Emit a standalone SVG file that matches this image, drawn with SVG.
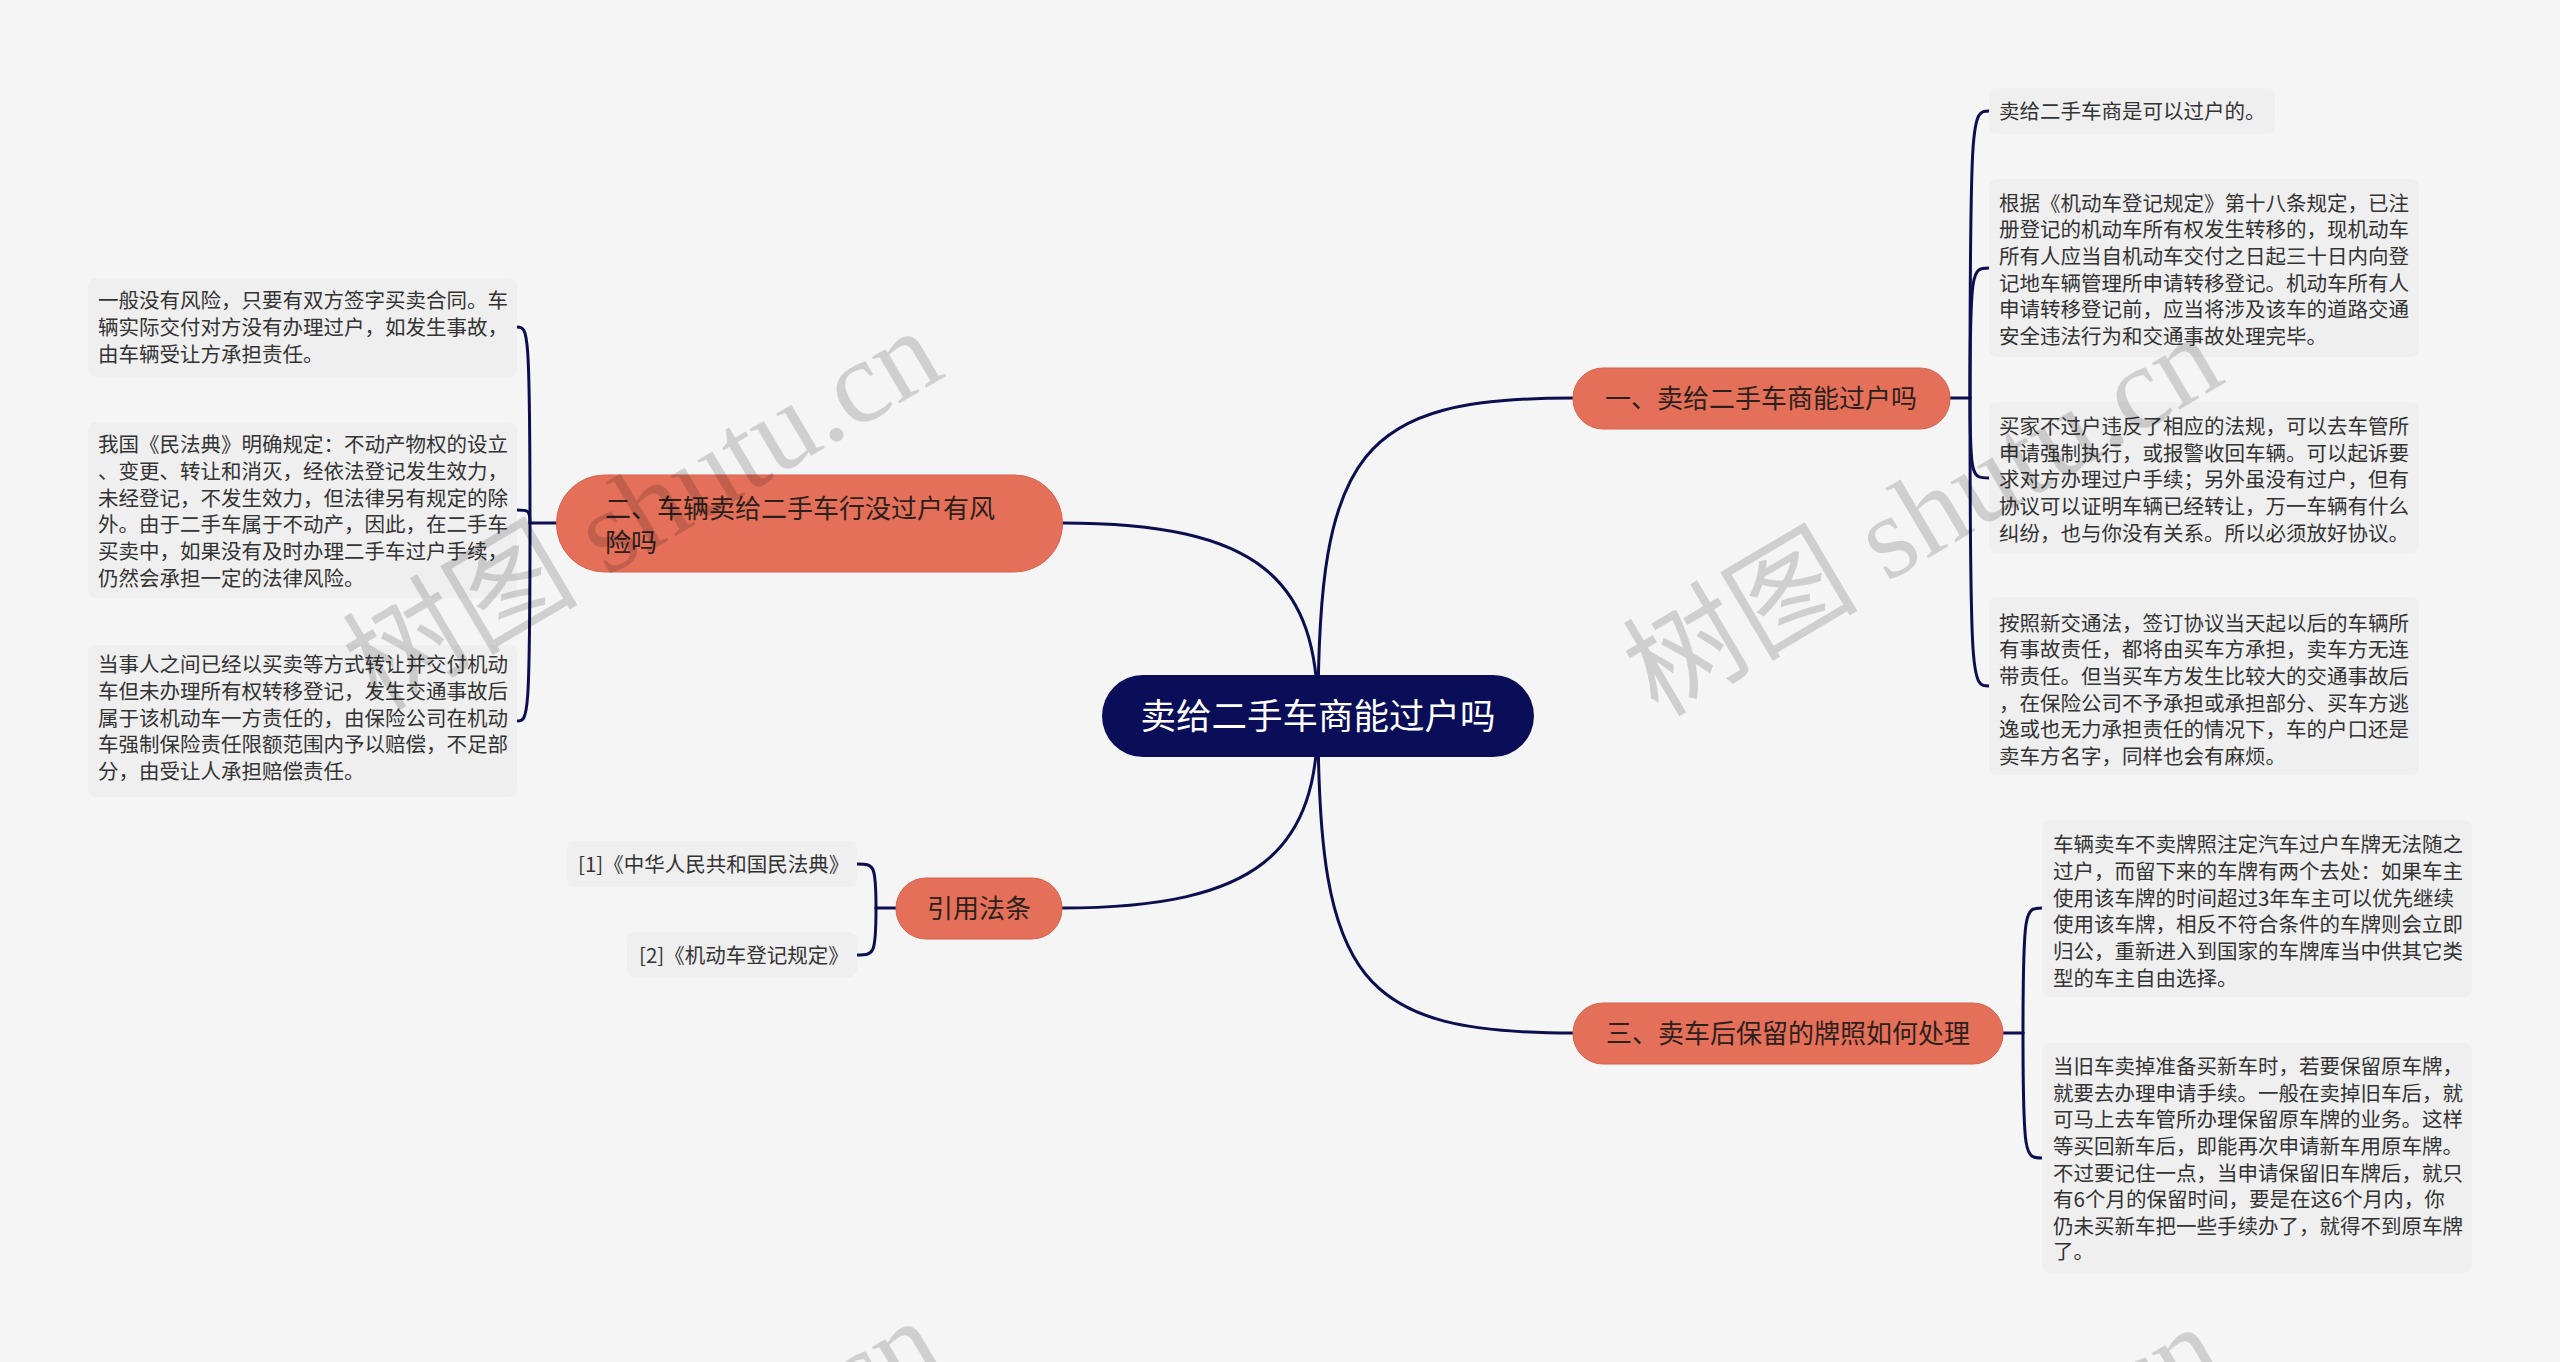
<svg xmlns="http://www.w3.org/2000/svg" width="2560" height="1362" viewBox="0 0 2560 1362">
<defs>
<style>
.bg{fill:#f5f5f5}
.conn{fill:none;stroke:#0b0f4f;stroke-width:3;stroke-linecap:round}
.root{fill:#0a0d57}
.rootT{font-family:"Noto Sans CJK SC","Noto Sans",sans-serif;font-size:35.5px;fill:#ffffff}
.br{fill:#e4705a;stroke:#d8634d;stroke-width:1}
.brT{font-family:"Noto Sans CJK SC","Noto Sans",sans-serif;font-size:26px;fill:#2d1f1c}
.leaf{fill:#efefef}
.lT{font-family:"Noto Sans CJK SC","Noto Sans",sans-serif;font-size:20.5px;fill:#333333}
.wm{font-family:"Liberation Serif","Noto Sans CJK SC",serif;font-size:118px;fill:#000000;opacity:0.15}
</style>
</defs>
<rect class="bg" x="0" y="0" width="2560" height="1362"/>

<g id="connectors">
<path class="conn" d="M1318,716 C1318,450 1360,398 1573,398"/>
<path class="conn" d="M1318,716 C1318,982 1360,1033 1573,1033"/>
<path class="conn" d="M1318,716 C1318,580 1260,523 1062,523"/>
<path class="conn" d="M1318,716 C1318,850 1260,908 1062,908"/>
<path class="conn" d="M1950,398 L1970,398"/>
<path class="conn" d="M1970,398 C1970,111 1972,111 1989,111"/>
<path class="conn" d="M1970,398 C1970,268 1972,268 1989,268"/>
<path class="conn" d="M1970,398 C1970,478 1972,478 1989,478"/>
<path class="conn" d="M1970,398 C1970,686 1972,686 1989,686"/>
<path class="conn" d="M2003,1033 L2023,1033"/>
<path class="conn" d="M2023,1033 C2023,908 2025,908 2042,908"/>
<path class="conn" d="M2023,1033 C2023,1158 2025,1158 2042,1158"/>
<path class="conn" d="M556,523 L530,523"/>
<path class="conn" d="M530,523 C530,327 528,327 517,327"/>
<path class="conn" d="M530,523 C530,510 528,510 517,510"/>
<path class="conn" d="M530,523 C530,721 528,721 517,721"/>
<path class="conn" d="M896,908 L876,908"/>
<path class="conn" d="M876,908 C876,864 874,864 857,864"/>
<path class="conn" d="M876,908 C876,955 874,955 857,955"/>
</g>

<g id="root">
<rect class="root" x="1102" y="675" width="432" height="82" rx="41"/>
<text class="rootT" x="1318" y="729" text-anchor="middle">卖给二手车商能过户吗</text>
</g>

<g id="branch1">
<rect class="br" x="1573" y="368" width="377" height="61" rx="30"/>
<text class="brT" x="1761" y="408" text-anchor="middle">一、卖给二手车商能过户吗</text>
</g>

<g id="branch2">
<rect class="br" x="556.5" y="475" width="506" height="97" rx="48"/>
<text class="brT" x="605" y="518">二、车辆卖给二手车行没过户有风</text>
<text class="brT" x="605" y="552">险吗</text>
</g>

<g id="branch3">
<rect class="br" x="1573" y="1003" width="430" height="61" rx="30"/>
<text class="brT" x="1788" y="1043" text-anchor="middle">三、卖车后保留的牌照如何处理</text>
</g>

<g id="branch4">
<rect class="br" x="896" y="878" width="166" height="61" rx="30"/>
<text class="brT" x="979" y="918" text-anchor="middle">引用法条</text>
</g>

<g id="leafL1">
<rect class="leaf" x="88" y="278" width="429" height="99" rx="8"/>
<text class="lT" x="98" y="308">一般没有风险，只要有双方签字买卖合同。车</text>
<text class="lT" x="98" y="335">辆实际交付对方没有办理过户，如发生事故，</text>
<text class="lT" x="98" y="362">由车辆受让方承担责任。</text>
</g>

<g id="leafL2">
<rect class="leaf" x="88" y="422" width="429" height="176" rx="8"/>
<text class="lT" x="98" y="452">我国《民法典》明确规定：不动产物权的设立</text>
<text class="lT" x="98" y="479">、变更、转让和消灭，经依法登记发生效力，</text>
<text class="lT" x="98" y="506">未经登记，不发生效力，但法律另有规定的除</text>
<text class="lT" x="98" y="532">外。由于二手车属于不动产，因此，在二手车</text>
<text class="lT" x="98" y="559">买卖中，如果没有及时办理二手车过户手续，</text>
<text class="lT" x="98" y="586">仍然会承担一定的法律风险。</text>
</g>

<g id="leafL3">
<rect class="leaf" x="88" y="645" width="429" height="152" rx="8"/>
<text class="lT" x="98" y="672">当事人之间已经以买卖等方式转让并交付机动</text>
<text class="lT" x="98" y="699">车但未办理所有权转移登记，发生交通事故后</text>
<text class="lT" x="98" y="726">属于该机动车一方责任的，由保险公司在机动</text>
<text class="lT" x="98" y="752">车强制保险责任限额范围内予以赔偿，不足部</text>
<text class="lT" x="98" y="779">分，由受让人承担赔偿责任。</text>
</g>

<g id="leafC1">
<rect class="leaf" x="567" y="841" width="290" height="46" rx="8"/>
<text class="lT" x="578" y="872">[1]《中华人民共和国民法典》</text>
</g>

<g id="leafC2">
<rect class="leaf" x="627" y="932" width="230" height="45" rx="8"/>
<text class="lT" x="639" y="963">[2]《机动车登记规定》</text>
</g>

<g id="leafR1">
<rect class="leaf" x="1989" y="88" width="286" height="46" rx="8"/>
<text class="lT" x="1999" y="119">卖给二手车商是可以过户的。</text>
</g>

<g id="leafR2">
<rect class="leaf" x="1989" y="179" width="430" height="178" rx="8"/>
<text class="lT" x="1999" y="211">根据《机动车登记规定》第十八条规定，已注</text>
<text class="lT" x="1999" y="237">册登记的机动车所有权发生转移的，现机动车</text>
<text class="lT" x="1999" y="264">所有人应当自机动车交付之日起三十日内向登</text>
<text class="lT" x="1999" y="291">记地车辆管理所申请转移登记。机动车所有人</text>
<text class="lT" x="1999" y="317">申请转移登记前，应当将涉及该车的道路交通</text>
<text class="lT" x="1999" y="344">安全违法行为和交通事故处理完毕。</text>
</g>

<g id="leafR3">
<rect class="leaf" x="1989" y="402" width="430" height="151" rx="8"/>
<text class="lT" x="1999" y="434">买家不过户违反了相应的法规，可以去车管所</text>
<text class="lT" x="1999" y="461">申请强制执行，或报警收回车辆。可以起诉要</text>
<text class="lT" x="1999" y="487">求对方办理过户手续；另外虽没有过户，但有</text>
<text class="lT" x="1999" y="514">协议可以证明车辆已经转让，万一车辆有什么</text>
<text class="lT" x="1999" y="541">纠纷，也与你没有关系。所以必须放好协议。</text>
</g>

<g id="leafR4">
<rect class="leaf" x="1989" y="597" width="430" height="178" rx="8"/>
<text class="lT" x="1999" y="631">按照新交通法，签订协议当天起以后的车辆所</text>
<text class="lT" x="1999" y="657">有事故责任，都将由买车方承担，卖车方无连</text>
<text class="lT" x="1999" y="684">带责任。但当买车方发生比较大的交通事故后</text>
<text class="lT" x="1999" y="711">，在保险公司不予承担或承担部分、买车方逃</text>
<text class="lT" x="1999" y="737">逸或也无力承担责任的情况下，车的户口还是</text>
<text class="lT" x="1999" y="764">卖车方名字，同样也会有麻烦。</text>
</g>

<g id="leafR5">
<rect class="leaf" x="2042" y="820" width="430" height="177" rx="8"/>
<text class="lT" x="2053" y="852">车辆卖车不卖牌照注定汽车过户车牌无法随之</text>
<text class="lT" x="2053" y="879">过户，而留下来的车牌有两个去处：如果车主</text>
<text class="lT" x="2053" y="906">使用该车牌的时间超过3年车主可以优先继续</text>
<text class="lT" x="2053" y="932">使用该车牌，相反不符合条件的车牌则会立即</text>
<text class="lT" x="2053" y="959">归公，重新进入到国家的车牌库当中供其它类</text>
<text class="lT" x="2053" y="986">型的车主自由选择。</text>
</g>

<g id="leafR6">
<rect class="leaf" x="2042" y="1043" width="430" height="230" rx="8"/>
<text class="lT" x="2053" y="1074">当旧车卖掉准备买新车时，若要保留原车牌，</text>
<text class="lT" x="2053" y="1101">就要去办理申请手续。一般在卖掉旧车后，就</text>
<text class="lT" x="2053" y="1127">可马上去车管所办理保留原车牌的业务。这样</text>
<text class="lT" x="2053" y="1154">等买回新车后，即能再次申请新车用原车牌。</text>
<text class="lT" x="2053" y="1181">不过要记住一点，当申请保留旧车牌后，就只</text>
<text class="lT" x="2053" y="1207">有6个月的保留时间，要是在这6个月内，你</text>
<text class="lT" x="2053" y="1234">仍未买新车把一些手续办了，就得不到原车牌</text>
<text class="lT" x="2053" y="1259">了。</text>
</g>

<g id="watermarks">
<text class="wm" transform="translate(378,712) rotate(-30.6)">树图 shutu.cn</text>
<text class="wm" transform="translate(1658,718) rotate(-30.6)">树图 shutu.cn</text>
<text class="wm" transform="translate(378,1702) rotate(-30.6)">树图 shutu.cn</text>
<text class="wm" transform="translate(1658,1708) rotate(-30.6)">树图 shutu.cn</text>
</g>
</svg>
